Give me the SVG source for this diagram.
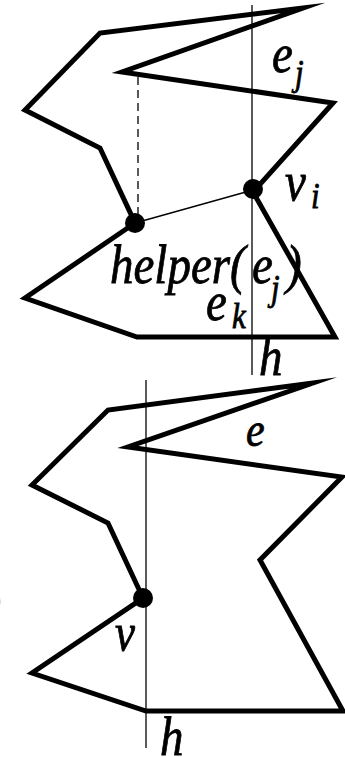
<svg xmlns="http://www.w3.org/2000/svg" width="345" height="757" viewBox="0 0 345 757">
<style>
.poly{fill:none;stroke:#000;stroke-width:5;stroke-linejoin:miter;stroke-miterlimit:10}
.thin{fill:none;stroke:#000;stroke-width:1.3}
.lbl{font-family:"Liberation Serif","Times New Roman",serif;font-style:italic;fill:#000;stroke:#000;stroke-width:0.7}
.big{font-size:47px}
.sub{font-size:31px}
</style>
<rect width="345" height="757" fill="#fff"/>
<g id="top">
  <g id="polygon-top"><polygon class="poly" points="303,8 100,33 25,110 100,148 135,223 25,298 137,337 335,337 253,192 333,103 122,72"/></g>
  <g id="connectors-top">
    <line class="thin" x1="252" y1="5" x2="252" y2="375"/>
    <line class="thin" x1="138" y1="77" x2="138" y2="223" stroke-dasharray="8,5"/>
    <line class="thin" x1="135" y1="223" x2="253" y2="190" stroke-width="1"/>
  </g>
  <g id="node-helper"><circle cx="135" cy="223" r="10" fill="#000"/></g>
  <g id="node-vi"><circle cx="253" cy="189" r="10" fill="#000"/></g>
  <g id="labels-top">
    <text class="lbl big" transform="matrix(1 0 0 1.15 272 72)">e</text><text class="lbl sub" transform="matrix(1 0 0 1.15 295 85)">j</text>
    <text class="lbl big" transform="matrix(1 0 0 1.15 285 200)">v</text><text class="lbl sub" transform="matrix(1 0 0 1.15 311 208)">i</text>
    <text class="lbl big" transform="matrix(1 0 0 1.15 110 283)">helper(</text>
    <text class="lbl big" transform="matrix(1 0 0 1.15 252 283)">e</text><text class="lbl sub" transform="matrix(1 0 0 1.15 271 300)">j</text>
    <text class="lbl big" transform="matrix(1 0 0 1.15 286 283)">)</text>
    <text class="lbl big" transform="matrix(1 0 0 1.15 206 320)">e</text><text class="lbl sub" transform="matrix(1 0 0 1.15 232 328)">k</text>
    <text class="lbl big" transform="matrix(1 0 0 1.15 259 375)">h</text>
  </g>
</g>
<g id="bottom">
  <g id="polygon-bottom"><polygon class="poly" points="313,383 108,410 32,485 108,523 143,598 32,673 146,711 343,711 260,560 342,477 128,447"/></g>
  <g id="connectors-bottom">
    <line class="thin" x1="146" y1="380" x2="146" y2="748" stroke="#444"/>
  </g>
  <g id="node-v"><circle cx="143" cy="598" r="10" fill="#000"/></g>
  <g id="labels-bottom">
    <text class="lbl" font-size="42" transform="matrix(1 0 0 1.15 246 446)">e</text>
    <text class="lbl" font-size="45" transform="matrix(1 0 0 1.15 115 650)">v</text>
    <text class="lbl big" transform="matrix(1 0 0 1.15 160 755)">h</text>
    <text class="lbl big" style="font-style:normal" text-anchor="end" transform="matrix(1 0 0 1.15 2 615)">)</text>
  </g>
</g>
</svg>
